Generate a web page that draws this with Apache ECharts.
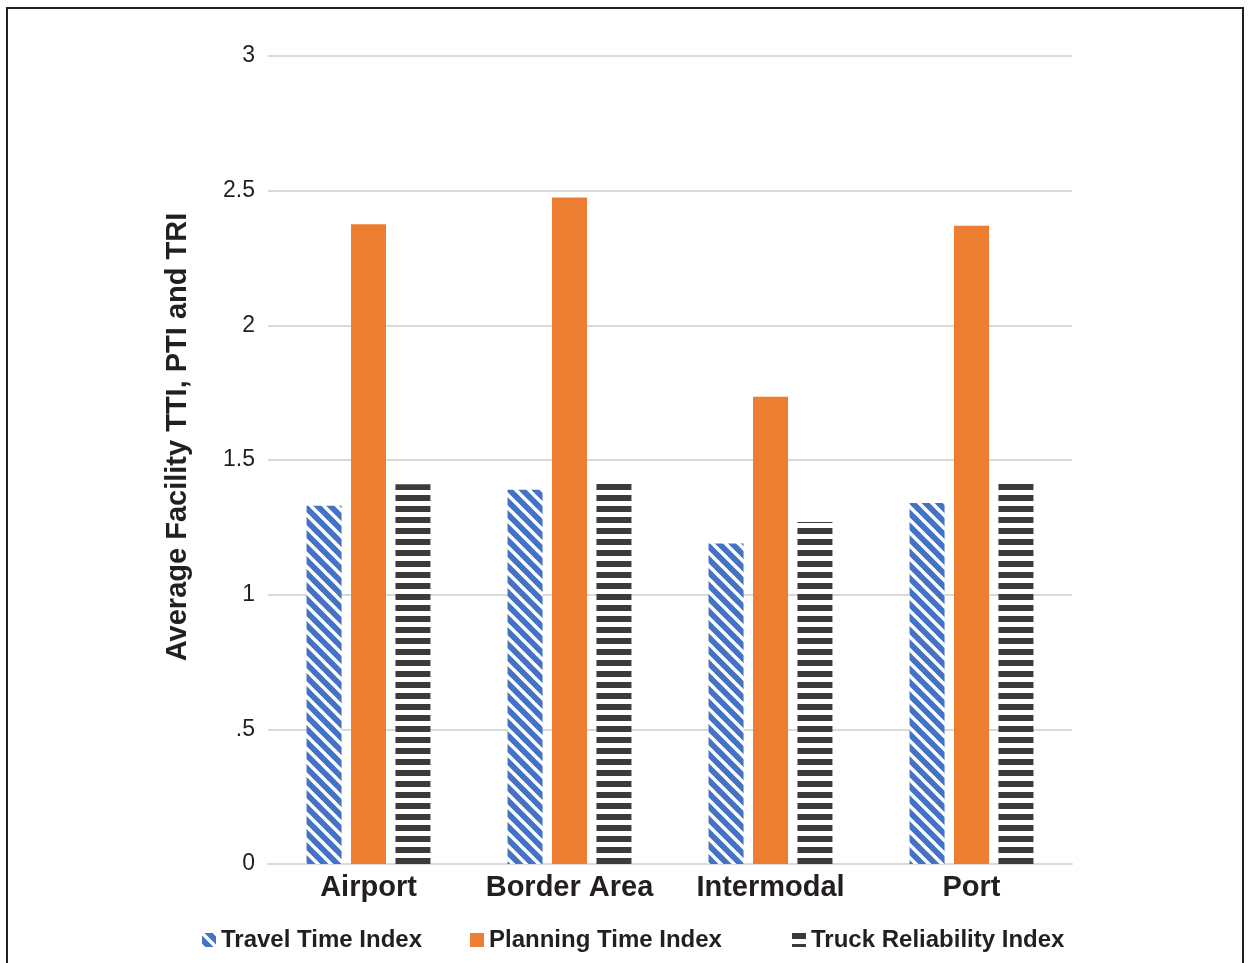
<!DOCTYPE html>
<html>
<head>
<meta charset="utf-8">
<script src="https://cdn.jsdelivr.net/npm/echarts@6/dist/echarts.min.js"></script>
<style>
  html, body { margin: 0; padding: 0; background: #fff; }
  #chart { width: 1251px; height: 963px; }
</style>
</head>
<body>
<div id="chart"></div>
<script>
// Facility categories and index values
const categories = ['Airport', 'Border Area', 'Intermodal', 'Port'];
const travelTimeIndex = [1.33, 1.39, 1.19, 1.34];
const planningTimeIndex = [2.375, 2.475, 1.735, 2.37];
const truckReliabilityIndex = [1.41, 1.425, 1.27, 1.415];
const seriesNames = ['Travel Time Index', 'Planning Time Index', 'Truck Reliability Index'];
const yTicks = [0, 0.5, 1, 1.5, 2, 2.5, 3];

const BLUE = '#4472C4';
const ORANGE = '#ED7D31';
const DARK = '#3b3b3b';
const FONT = '"Liberation Sans", Arial, sans-serif';
const TEXT = '#231f20';

// Diagonal stripe fill (blue with thin white bands, running top-left to bottom-right)
function diagonalPattern() {
  const s = 13;
  const c = document.createElement('canvas');
  c.width = s; c.height = s;
  const g = c.getContext('2d');
  g.fillStyle = BLUE;
  g.fillRect(0, 0, s, s);
  g.strokeStyle = '#ffffff';
  g.lineWidth = 3.4;
  for (let k = -1; k <= 1; k++) {
    g.beginPath();
    g.moveTo(k * s - 1, -1);
    g.lineTo(k * s + s + 1, s + 1);
    g.stroke();
  }
  return { image: c, repeat: 'repeat' };
}

// Horizontal stripe fill (dark bands on white)
function horizontalPattern() {
  const c = document.createElement('canvas');
  c.width = 8; c.height = 11;
  const g = c.getContext('2d');
  g.fillStyle = '#ffffff';
  g.fillRect(0, 0, 8, 11);
  g.fillStyle = DARK;
  g.fillRect(0, 0, 8, 6);
  return { image: c, repeat: 'repeat' };
}

const chart = echarts.init(document.getElementById('chart'));

const legendBase = {
  top: 923,
  itemWidth: 14,
  itemHeight: 14,
  icon: 'rect',
  textStyle: { fontFamily: FONT, fontSize: 24, fontWeight: 'bold', color: TEXT }
};

chart.setOption({
  animation: false,
  backgroundColor: '#fff',
  graphic: [{
    type: 'rect',
    shape: { x: 7, y: 8, width: 1236, height: 1000 },
    style: { fill: 'none', stroke: TEXT, lineWidth: 2 },
    silent: true
  }],
  legend: [
    Object.assign({ left: 197, data: [seriesNames[0]] }, legendBase),
    Object.assign({ left: 465, data: [seriesNames[1]] }, legendBase),
    Object.assign({ left: 787, data: [seriesNames[2]] }, legendBase)
  ],
  grid: { left: 268, right: 179, top: 56, bottom: 99 },
  xAxis: {
    type: 'category',
    data: categories,
    axisLine: { show: true, lineStyle: { color: '#d9d9d9', width: 2 } },
    axisTick: { show: false },
    axisLabel: { interval: 0, fontFamily: FONT, fontSize: 29, fontWeight: 'bold', color: TEXT, margin: 9 }
  },
  yAxis: {
    type: 'value',
    min: yTicks[0],
    max: yTicks[yTicks.length - 1],
    interval: 0.5,
    name: 'Average Facility TTI, PTI and TRI',
    nameLocation: 'middle',
    nameGap: 76,
    nameTextStyle: {
      fontFamily: FONT, fontSize: 29, fontWeight: 'bold', color: TEXT,
      padding: [0, 0, 0, 46]
    },
    axisLine: { show: false },
    axisTick: { show: false },
    splitLine: { lineStyle: { color: '#d9d9d9', width: 2 } },
    axisLabel: {
      fontFamily: FONT, fontSize: 23, color: TEXT, margin: 13,
      formatter: v => (v > 0 && v < 1) ? String(v).replace(/^0/, '') : String(v)
    }
  },
  series: [
    { name: seriesNames[0], type: 'bar', data: travelTimeIndex, barWidth: 35, barGap: '27%',
      itemStyle: { color: diagonalPattern() } },
    { name: seriesNames[1], type: 'bar', data: planningTimeIndex, barWidth: 35, barGap: '27%',
      itemStyle: { color: ORANGE } },
    { name: seriesNames[2], type: 'bar', data: truckReliabilityIndex, barWidth: 35, barGap: '27%',
      itemStyle: { color: horizontalPattern() } }
  ]
});
</script>
</body>
</html>
